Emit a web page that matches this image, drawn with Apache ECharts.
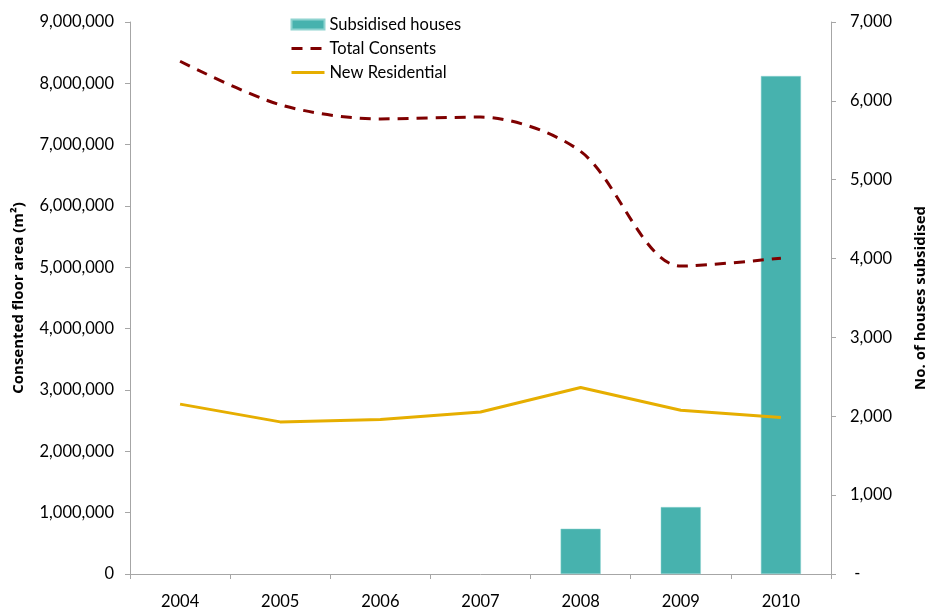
<!DOCTYPE html>
<html>
<head>
<meta charset="utf-8">
<script src="https://cdn.jsdelivr.net/npm/echarts@6/dist/echarts.min.js"></script>
<style>
  html, body { margin: 0; padding: 0; background: #fff; }
  #chart { width: 929px; height: 612px; }
</style>
</head>
<body>
<div id="chart"></div>
<script>
var years = ['2004', '2005', '2006', '2007', '2008', '2009', '2010'];
var subsidisedHouses = [null, null, null, null, 574, 849, 6315];
var totalConsents = [8360000, 7650000, 7420000, 7450000, 6890000, 5020000, 5150000];
var newResidential = [2770000, 2480000, 2520000, 2640000, 3040000, 2670000, 2550000];

var fontName = 'Lato';
var axisGray = '#a6a6a6';

var chart = echarts.init(document.getElementById('chart'));

function thousands(v) {
  return String(v).replace(/\B(?=(\d{3})+(?!\d))/g, ',');
}

var option = {
  animation: false,
  textStyle: { fontFamily: fontName },
  grid: { left: 130, right: 98, top: 22, bottom: 38, containLabel: false, outerBoundsMode: 'none' },
  legend: {
    orient: 'vertical',
    left: 285,
    top: 11,
    itemWidth: 33,
    itemHeight: 10,
    itemGap: 7,
    textStyle: { fontFamily: fontName, fontSize: 16.5, color: '#000' },
    data: [
      { name: 'Subsidised houses', icon: 'rect' },
      { name: 'Total Consents', itemStyle: { opacity: 0 }, lineStyle: { width: 3 } },
      { name: 'New Residential', itemStyle: { opacity: 0 }, lineStyle: { width: 3 } }
    ]
  },
  xAxis: {
    type: 'category',
    data: years,
    axisLine: { lineStyle: { color: axisGray, width: 1 } },
    axisTick: { show: true, length: 5, lineStyle: { color: axisGray } },
    axisLabel: { color: '#000', fontSize: 16.5, margin: 19, fontFamily: fontName }
  },
  yAxis: [
    {
      type: 'value',
      min: 0,
      max: 9000000,
      interval: 1000000,
      name: 'Consented floor area (m²)',
      nameLocation: 'middle',
      nameGap: 104,
      nameTextStyle: { fontFamily: 'Open Sans', fontSize: 15, fontWeight: 'bold', color: '#000' },
      axisLine: { show: true, lineStyle: { color: axisGray } },
      axisTick: { show: true, length: 5, lineStyle: { color: axisGray } },
      splitLine: { show: false },
      axisLabel: {
        color: '#000', fontSize: 16.5, margin: 16, fontFamily: fontName,
        formatter: function (v) { return thousands(v); }
      }
    },
    {
      type: 'value',
      min: 0,
      max: 7000,
      interval: 1000,
      position: 'right',
      name: 'No. of houses subsidised',
      nameLocation: 'middle',
      nameGap: 82,
      nameRotate: 90,
      nameTextStyle: { fontFamily: 'Open Sans', fontSize: 15, fontWeight: 'bold', color: '#000' },
      axisLine: { show: true, lineStyle: { color: axisGray } },
      axisTick: { show: true, length: 5, lineStyle: { color: axisGray } },
      splitLine: { show: false },
      axisLabel: {
        color: '#000', fontSize: 16.5, margin: 19, fontFamily: fontName,
        formatter: function (v) { return v === 0 ? ' -' : thousands(v); }
      }
    }
  ],
  series: [
    {
      name: 'Subsidised houses',
      type: 'bar',
      yAxisIndex: 1,
      barWidth: '40%',
      data: subsidisedHouses,
      itemStyle: { color: '#47b2ae', borderColor: '#8fd3d0', borderWidth: 0.5 }
    },
    {
      name: 'Total Consents',
      type: 'line',
      yAxisIndex: 0,
      data: totalConsents,
      smooth: 0.3,
      symbol: 'none',
      lineStyle: { color: '#7f0000', width: 3, type: [11, 8] },
      itemStyle: { color: '#7f0000' }
    },
    {
      name: 'New Residential',
      type: 'line',
      yAxisIndex: 0,
      data: newResidential,
      symbol: 'none',
      lineStyle: { color: '#e6ae00', width: 3 },
      itemStyle: { color: '#e6ae00' }
    }
  ]
};

chart.setOption(option);
</script>
</body>
</html>
